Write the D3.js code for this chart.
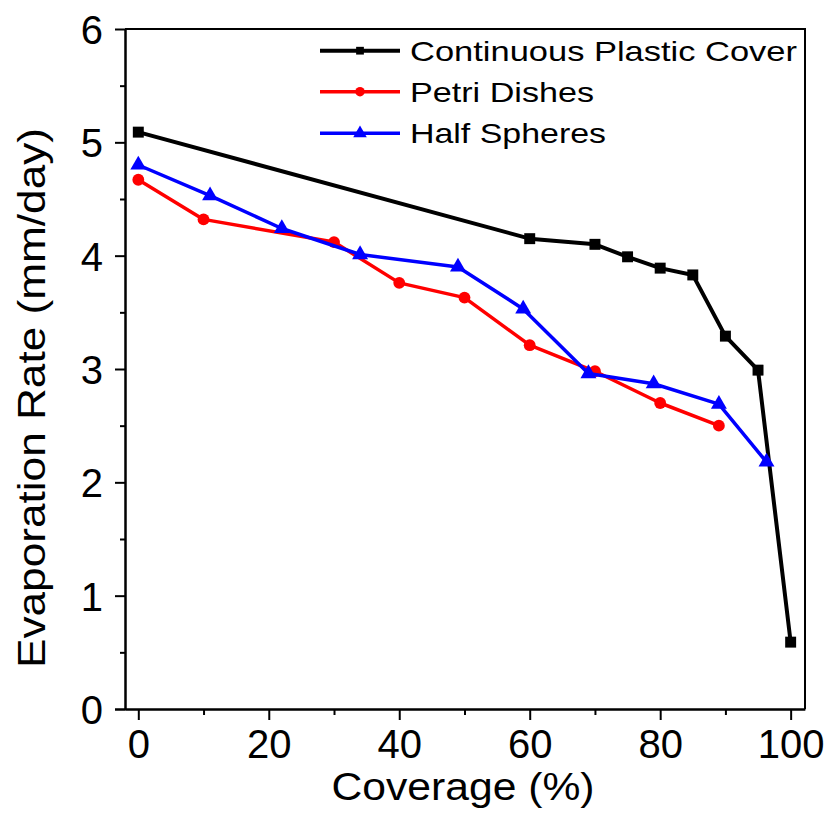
<!DOCTYPE html>
<html>
<head>
<meta charset="utf-8">
<script src="https://cdn.jsdelivr.net/npm/d3@7/dist/d3.min.js"></script>
<style>
  html, body { margin: 0; padding: 0; background: #fff; }
  svg { display: block; font-family: "Liberation Sans", Arial, sans-serif; }
  .axis path, .axis line { stroke: #000; stroke-width: 2; }
  .axis text { fill: #000; font-size: 40px; font-family: "Liberation Sans", Arial, sans-serif; }
</style>
</head>
<body>
<div id="chart"></div>
<script>
// Verdunstungsrate gegen Abdeckung, drei Abdeckungsarten

const xCoverPlastic = [0, 60, 70, 75, 80, 85, 90, 95, 100];
const yCoverPlastic = [5.09, 4.15, 4.10, 3.99, 3.89, 3.83, 3.29, 2.99, 0.59];

const xPetri = [0, 10, 30, 40, 50, 60, 70, 80, 89];
const yPetri = [4.67, 4.32, 4.12, 3.76, 3.63, 3.21, 2.98, 2.70, 2.50];

const xHalf = [0, 11, 22, 34, 49, 59, 69, 79, 89, 96.3];
const yHalf = [4.80, 4.53, 4.24, 4.01, 3.90, 3.53, 2.96, 2.87, 2.69, 2.18];

const xTicksMajor = [0, 20, 40, 60, 80, 100];
const xTicksMinor = [10, 30, 50, 70, 90];
const yTicksMajor = [0, 1, 2, 3, 4, 5, 6];
const yTicksMinor = [0.5, 1.5, 2.5, 3.5, 4.5, 5.5];

const seriesNames = ["Continuous Plastic Cover", "Petri Dishes", "Half Spheres"];
const seriesColors = ["#000000", "#ff0000", "#0000ff"];
const seriesSymbols = [d3.symbolSquare, d3.symbolCircle, d3.symbolTriangle];

const series = [
  { x: xCoverPlastic, y: yCoverPlastic },
  { x: xPetri, y: yPetri },
  { x: xHalf, y: yHalf }
].map((s, i) => ({
  name: seriesNames[i],
  color: seriesColors[i],
  symbol: seriesSymbols[i],
  points: s.x.map((v, j) => [v, s.y[j]])
}));

const W = 830, H = 828;
const plot = { left: 125, right: 805, top: 29, bottom: 709 };

const svg = d3.select("#chart").append("svg")
  .attr("width", W).attr("height", H);

const x = d3.scaleLinear().domain([-2.04, 102.2]).range([plot.left, plot.right]);
const y = d3.scaleLinear().domain([0, 6]).range([plot.bottom, plot.top]);

// Rahmen oben/rechts
svg.append("path")
  .attr("d", `M${plot.left},${plot.top}H${plot.right}V${plot.bottom}`)
  .attr("fill", "none").attr("stroke", "#000").attr("stroke-width", 2);

// Achsen
svg.append("g").attr("class", "axis")
  .attr("transform", `translate(0,${plot.bottom})`)
  .call(d3.axisBottom(x).tickValues(xTicksMinor).tickSize(6).tickFormat("").tickSizeOuter(0));
const xAx = svg.append("g").attr("class", "axis")
  .attr("transform", `translate(0,${plot.bottom})`)
  .call(d3.axisBottom(x).tickValues(xTicksMajor).tickSize(11).tickPadding(10).tickSizeOuter(0));
xAx.select(".domain").attr("d", `M${plot.left - 10},0.5H${plot.right}`);
xAx.selectAll(".tick text").attr("dy", "0.71em");

svg.append("g").attr("class", "axis")
  .attr("transform", `translate(${plot.left},0)`)
  .call(d3.axisLeft(y).tickValues(yTicksMinor).tickSize(5).tickFormat("").tickSizeOuter(0));
const yAx = svg.append("g").attr("class", "axis")
  .attr("transform", `translate(${plot.left},0)`)
  .call(d3.axisLeft(y).tickValues(yTicksMajor).tickFormat(d3.format("d"))
    .tickSize(10).tickPadding(12).tickSizeOuter(0));
yAx.selectAll(".tick text").attr("dy", "0.36em");

// Achsentitel
svg.append("text")
  .attr("x", 463).attr("y", 800)
  .attr("text-anchor", "middle")
  .attr("font-size", 38)
  .attr("textLength", 263).attr("lengthAdjust", "spacingAndGlyphs")
  .text("Coverage (%)");

svg.append("text")
  .attr("transform", `translate(45,398) rotate(-90)`)
  .attr("text-anchor", "middle")
  .attr("font-size", 39)
  .attr("textLength", 540).attr("lengthAdjust", "spacingAndGlyphs")
  .text("Evaporation Rate (mm/day)");

// Kurven
const line = d3.line().x(d => x(d[0])).y(d => y(d[1]));
const symSize = [120, 110, 110];
const legSymSize = [60, 70, 80];

series.forEach((s, i) => {
  const g = svg.append("g");
  g.append("path")
    .attr("d", line(s.points))
    .attr("fill", "none")
    .attr("stroke", s.color)
    .attr("stroke-width", i === 0 ? 4 : 3.5)
    .attr("stroke-linejoin", "round");
  g.selectAll("path.m").data(s.points).enter().append("path")
    .attr("class", "m")
    .attr("transform", d => `translate(${x(d[0])},${y(d[1])})`)
    .attr("d", d3.symbol(s.symbol, symSize[i]))
    .attr("fill", s.color);
});

// Legende
const legRows = [50.7, 91.7, 133.3];
const legLens = [387, 184, 196];
series.forEach((s, i) => {
  const g = svg.append("g").attr("transform", `translate(0,${legRows[i]})`);
  g.append("line").attr("x1", 320).attr("x2", 400).attr("y1", 0).attr("y2", 0)
    .attr("stroke", s.color).attr("stroke-width", i === 0 ? 4 : 3.5);
  g.append("path").attr("transform", "translate(360,0)")
    .attr("d", d3.symbol(s.symbol, legSymSize[i]))
    .attr("fill", s.color);
  g.append("text")
    .attr("x", 410).attr("y", 10)
    .attr("font-size", 28)
    .attr("textLength", legLens[i]).attr("lengthAdjust", "spacingAndGlyphs")
    .text(s.name);
});
</script>
</body>
</html>
